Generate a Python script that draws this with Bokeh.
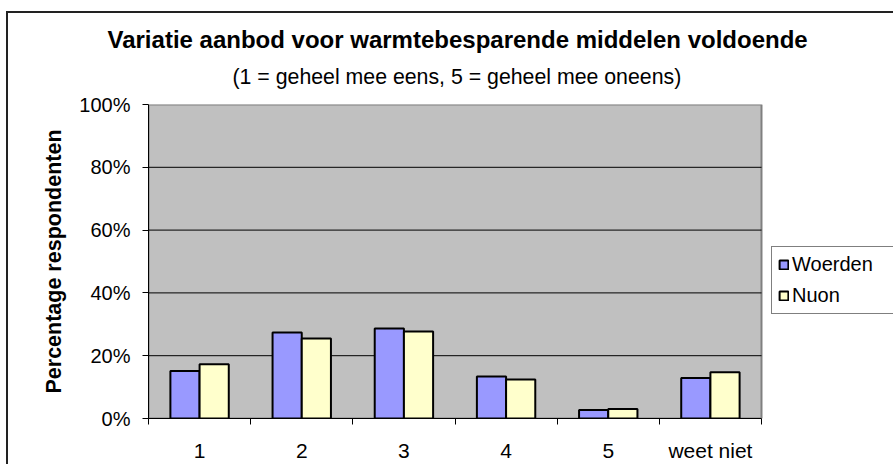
from bokeh.plotting import figure
from bokeh.models import (Range1d, FixedTicker, PrintfTickFormatter, Title, Legend,
                          LegendItem, ColumnDataSource)
from bokeh.embed import file_html
from bokeh.resources import INLINE

categories = ["1", "2", "3", "4", "5", "weet niet"]
woerden = [15.1, 27.4, 28.7, 13.4, 2.7, 12.9]
nuon = [17.3, 25.5, 27.7, 12.4, 3.0, 14.7]
y_ticks = [0, 20, 40, 60, 80, 100]
series_names = ["Woerden", "Nuon"]

FONT = "Liberation Sans"
W, H = 893, 464
LEFT, TOP, BOTTOM = 148, 104, 44
PLOT_W = 613  # pixel width of the grey plot area (categories part)
n_cat = len(categories)
bar_w = 1 / 3.5
centers = [i + 0.5 for i in range(n_cat)]

src = ColumnDataSource(dict(
    xw=[c - bar_w / 2 for c in centers],
    xn=[c + bar_w / 2 for c in centers],
    w=woerden, n=nuon,
))

x_end = n_cat * (W - LEFT) / PLOT_W
p = figure(width=W, height=H, output_backend="svg", toolbar_location=None,
           x_range=Range1d(0, x_end), y_range=Range1d(y_ticks[0], y_ticks[-1]),
           min_border_left=LEFT, min_border_right=0, min_border_top=TOP,
           min_border_bottom=BOTTOM)
p.background_fill_color = None
p.border_fill_color = "white"
p.border_fill_alpha = 0
p.outline_line_color = None
# outer chart-area border (top and left edges visible, the rest lies beyond the picture)
p.styles = {"box-shadow": "inset 6px 11px 0 0 #ffffff, inset 8px 13px 0 0 #222222"}

# grey plot area
p.quad(left=0, right=n_cat, bottom=y_ticks[0], top=y_ticks[-1],
       fill_color="#C0C0C0", line_color="#808080", line_width=2)
# horizontal gridlines
grid_y = y_ticks[1:-1]
p.segment(x0=[0] * len(grid_y), x1=[n_cat] * len(grid_y), y0=grid_y, y1=grid_y,
          line_color="black", line_width=1)

rw = p.vbar(x="xw", top="w", bottom=0, width=bar_w, source=src,
            fill_color="#9999FF", line_color="black", line_width=2)
rn = p.vbar(x="xn", top="n", bottom=0, width=bar_w, source=src,
            fill_color="#FFFFCC", line_color="black", line_width=2)

# y axis
p.yaxis.ticker = FixedTicker(ticks=y_ticks)
p.yaxis.formatter = PrintfTickFormatter(format="%d%%")
p.yaxis.major_tick_out = 6
p.yaxis.major_tick_in = 0
p.yaxis.minor_tick_out = 0
p.yaxis.minor_tick_in = 0
p.yaxis.axis_line_color = "black"
p.yaxis.major_label_text_font = FONT
p.yaxis.major_label_text_font_size = "20px"
p.yaxis.major_label_text_color = "black"
p.yaxis.major_label_standoff = 12
p.yaxis.axis_label = "Percentage respondenten"
p.yaxis.axis_label_text_font = FONT
p.yaxis.axis_label_text_font_size = "21.5px"
p.yaxis.axis_label_text_font_style = "bold"
p.yaxis.axis_label_text_color = "black"
p.yaxis.axis_label_standoff = 10

# x axis
p.xaxis.ticker = FixedTicker(ticks=centers, minor_ticks=list(range(n_cat + 1)))
p.xaxis.major_label_overrides = {c: lab for c, lab in zip(centers, categories)}
p.xaxis.bounds = (0, n_cat)
p.xaxis.major_tick_out = 0
p.xaxis.major_tick_in = 0
p.xaxis.minor_tick_out = 6
p.xaxis.minor_tick_in = 0
p.xaxis.axis_line_color = "black"
p.xaxis.major_label_text_font = FONT
p.xaxis.major_label_text_font_size = "21px"
p.xaxis.major_label_text_color = "black"
p.xaxis.major_label_standoff = 14

p.xgrid.grid_line_color = None
p.ygrid.grid_line_color = None

# titles
p.add_layout(Title(text="(1 = geheel mee eens, 5 = geheel mee oneens)", align="left",
                   offset=232 - LEFT,
                   text_font=FONT, text_font_size="21.3px", text_font_style="normal",
                   text_color="black", standoff=31), "above")
p.add_layout(Title(text="Variatie aanbod voor warmtebesparende middelen voldoende",
                   align="left", offset=107 - LEFT,
                   text_font=FONT, text_font_size="24px",
                   text_font_style="bold", text_color="black", standoff=-11), "above")

legend = Legend(items=[LegendItem(label=series_names[0], renderers=[rw]),
                       LegendItem(label=series_names[1], renderers=[rn])],
                location=(623, 104), margin=0, padding=6, spacing=8,
                glyph_width=11, glyph_height=11, label_standoff=3, label_width=100,
                label_text_font=FONT, label_text_font_size="20px",
                label_text_color="black", border_line_color="black",
                border_line_width=1, background_fill_color="white",
                background_fill_alpha=1)
p.add_layout(legend, "center")

open("out.html", "w").write(file_html(p, INLINE))
